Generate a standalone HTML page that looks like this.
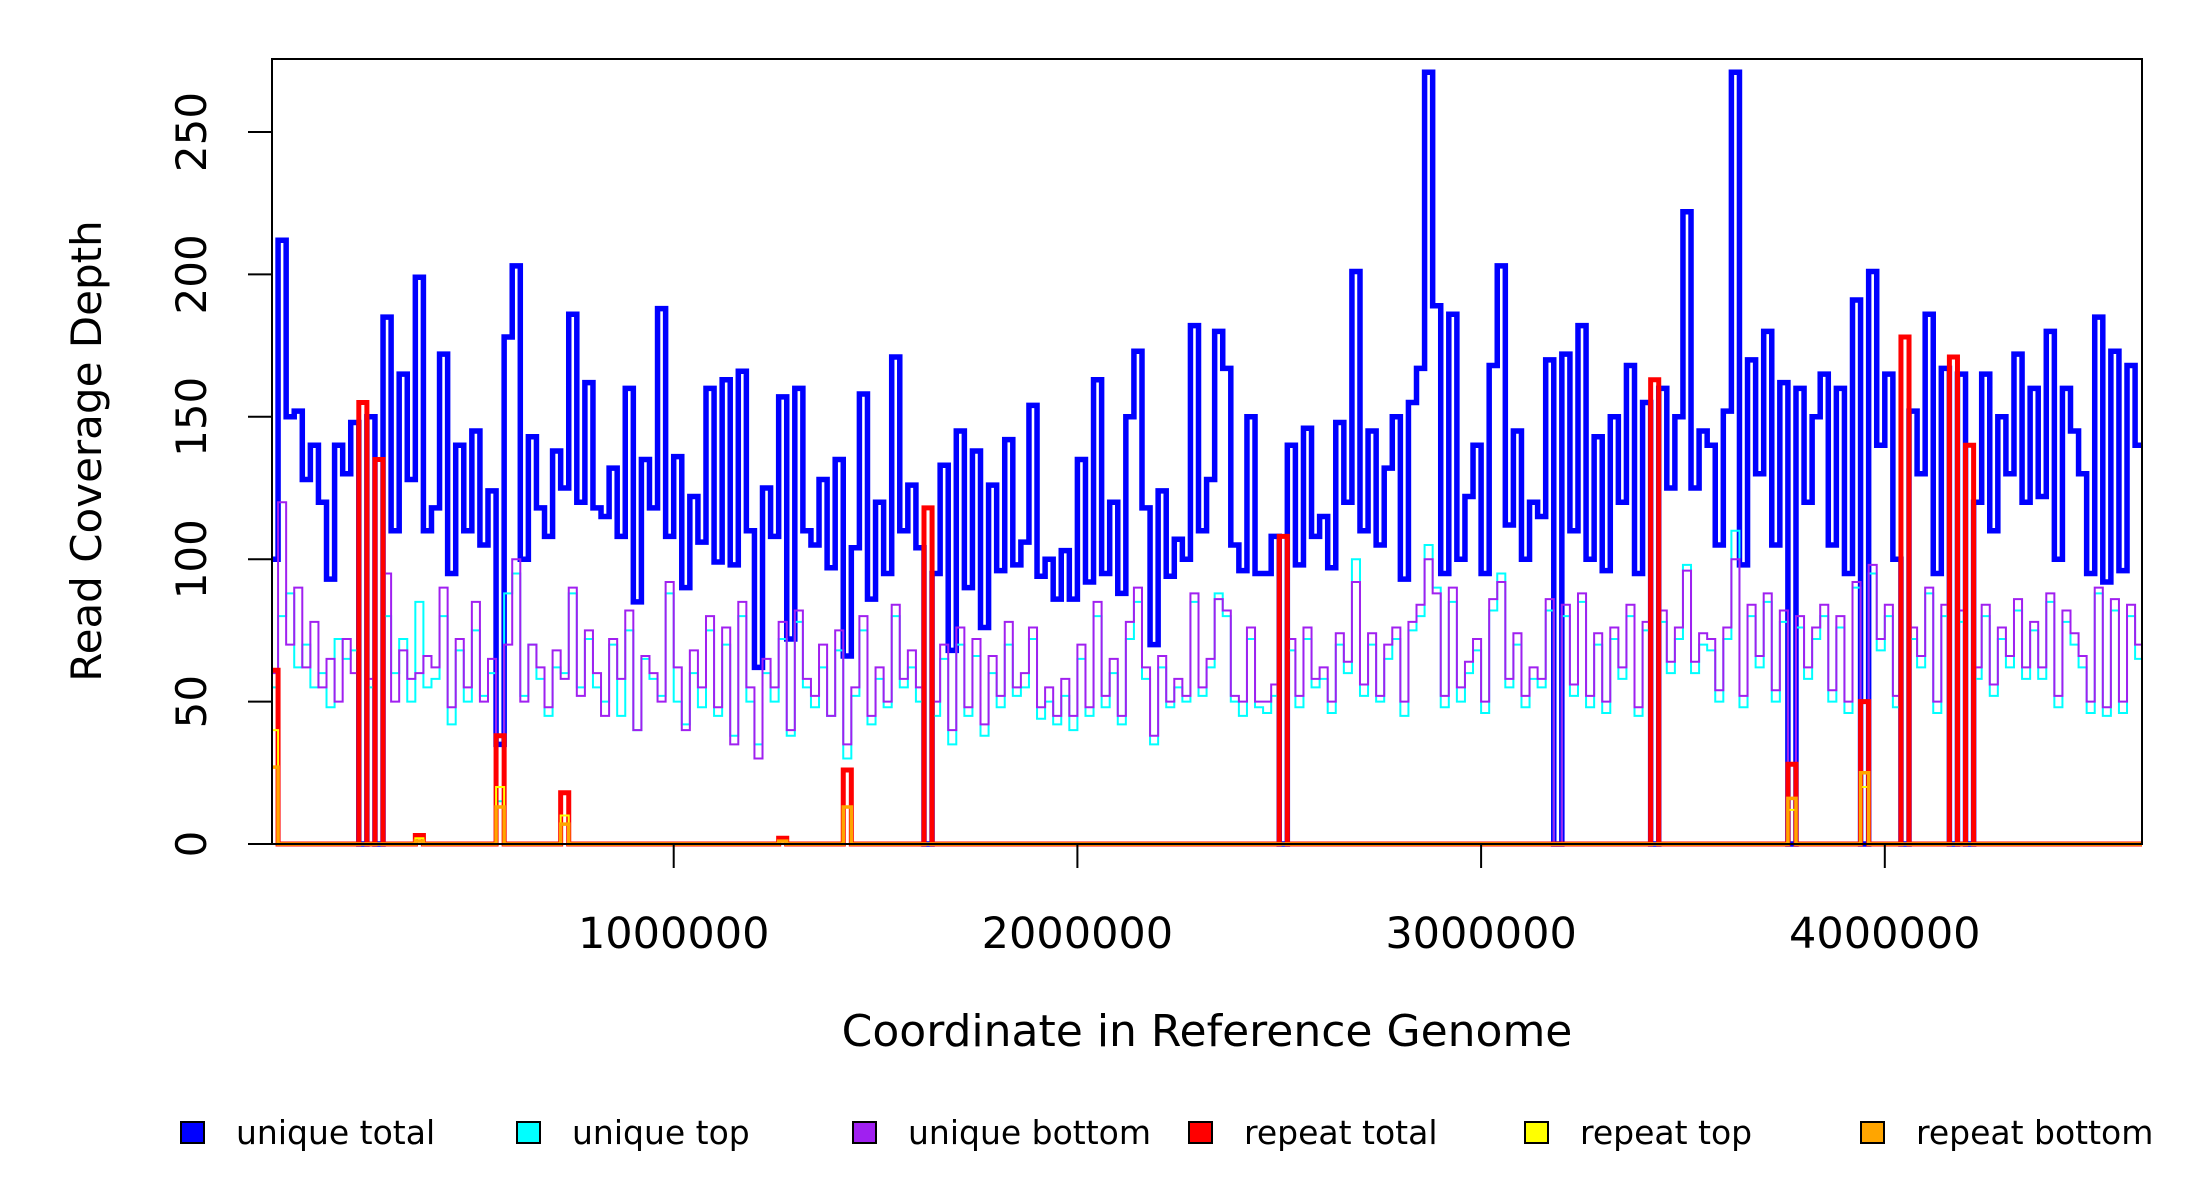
<!DOCTYPE html>
<html><head><meta charset="utf-8"><style>
html,body{margin:0;padding:0;background:#fff;}
svg{display:block;font-family:"DejaVu Sans","Liberation Sans",sans-serif;}
</style></head><body>
<svg id="chart" width="2200" height="1200" viewBox="0 0 2200 1200" xmlns="http://www.w3.org/2000/svg">
<g id="marks"></g>
<rect x="272" y="59" width="1870" height="785" fill="none" stroke="#000" stroke-width="2"/>
<g id="axes"></g>
<text x="101" y="451" font-size="42" text-anchor="middle" transform="rotate(-90 101 451)">Read Coverage Depth</text>
<text x="1207" y="1046" font-size="44" text-anchor="middle">Coordinate in Reference Genome</text>
<g id="legend"></g>
</svg>
<script>
const binSize = 20000;
const uniqueTotal = [100,212,150,152,128,140,120,93,140,130,148,0,150,0,185,110,165,128,199,110,
118,172,95,140,110,145,105,124,35,178,203,100,143,118,108,138,125,186,120,162,
118,115,132,108,160,85,135,118,188,108,136,90,122,106,160,99,163,98,166,110,
62,125,108,157,72,160,110,105,128,97,135,66,104,158,86,120,95,171,110,126,
104,0,95,133,68,145,90,138,76,126,96,142,98,106,154,94,100,86,103,86,
135,92,163,95,120,88,150,173,118,70,124,94,107,100,182,110,128,180,167,105,
96,150,95,95,108,0,140,98,146,108,115,97,148,120,201,110,145,105,132,150,
93,155,167,271,189,95,186,100,122,140,95,168,203,112,145,100,120,115,170,0,
172,110,182,100,143,96,150,120,168,95,155,0,160,125,150,222,125,145,140,105,
152,271,98,170,130,180,105,162,0,160,120,150,165,105,160,95,191,0,201,140,
165,100,0,152,130,186,95,167,0,165,0,120,165,110,150,130,172,120,160,122,
180,100,160,145,130,95,185,92,173,96,168,140];
const uniqueTop = [55,80,88,62,70,55,60,48,72,65,68,0,55,0,80,60,72,50,85,55,
58,80,42,68,50,75,52,60,15,88,95,52,70,58,45,62,60,88,55,72,
55,50,70,45,75,40,65,58,52,88,50,42,60,48,75,45,70,38,80,50,
35,60,50,72,38,78,55,48,62,45,68,30,52,75,42,58,48,80,55,62,
50,0,45,65,35,70,45,66,38,60,48,70,52,55,72,44,50,42,52,40,
65,45,80,48,60,42,72,85,58,35,62,48,55,50,85,52,62,88,80,50,
45,72,48,46,52,0,68,48,72,55,58,46,70,60,100,52,70,50,65,72,
45,75,80,105,90,48,85,50,60,68,46,82,95,55,70,48,58,55,82,0,
80,52,85,48,70,46,72,58,80,45,75,0,78,60,72,98,60,70,68,50,
72,110,48,80,62,85,50,78,0,76,58,72,80,50,76,46,90,0,95,68,
80,48,0,72,62,88,46,80,0,78,0,58,80,52,72,62,82,58,75,58,
85,48,78,70,62,46,88,45,82,46,80,65];
const uniqueBottom = [60,120,70,90,62,78,55,65,50,72,60,0,58,0,95,50,68,58,60,66,
62,90,48,72,55,85,50,65,20,70,100,50,70,62,48,68,58,90,52,75,
60,45,72,58,82,40,66,60,50,92,62,40,68,55,80,48,76,35,85,55,
30,65,55,78,40,82,58,52,70,45,75,35,55,80,45,62,50,84,58,68,
55,0,50,70,40,76,48,72,42,66,52,78,55,60,76,48,55,45,58,45,
70,48,85,52,65,45,78,90,62,38,66,50,58,52,88,55,65,86,82,52,
50,76,50,50,56,0,72,52,76,58,62,50,74,64,92,56,74,52,70,76,
50,78,84,100,88,52,90,55,64,72,50,86,92,58,74,52,62,58,86,0,
84,56,88,52,74,50,76,62,84,48,78,0,82,64,76,96,64,74,72,54,
76,100,52,84,66,88,54,82,0,80,62,76,84,54,80,50,92,0,98,72,
84,52,0,76,66,90,50,84,0,82,0,62,84,56,76,66,86,62,78,62,
88,52,82,74,66,50,90,48,86,50,84,70];
const repeatBins = [0,11,13,18,28,36,63,71,81,125,171,188,197,202,208,210];
const repeatTotal = [61,155,135,3,38,18,2,26,118,108,163,28,50,178,171,140];
const repeatTop = [40,0,0,2,20,10,1,13,0,0,0,12,20,0,0,0];
const repeatBottom = [27,0,0,1,13,7,1,13,0,0,0,16,25,0,0,0];
const yTicks = [0,50,100,150,200,250];
const xTicks = [1000000,2000000,3000000,4000000];
const legendLabels = ["unique total","unique top","unique bottom","repeat total","repeat top","repeat bottom"];
const legendColors = ["#0000ff","#00ffff","#a020f0","#ff0000","#ffff00","#ffa500"];

const NS = "http://www.w3.org/2000/svg";
const X0 = 270, XS = 403.7/1000000, PL = 272, PR = 2142;
const Y0 = 844, YS = 2.848;
function xs(v){ return X0 + v*XS; }
function ys(v){ return Y0 - v*YS; }
function expand(bins, vals){ const a = uniqueTotal.map(()=>0); bins.forEach((b,i)=>{ a[b]=vals[i]; }); return a; }
function stepPath(vals){
  let d = "";
  vals.forEach((v,i)=>{
    const xa = Math.max(PL, xs(i*binSize)), xb = Math.min(PR, xs((i+1)*binSize));
    d += (i===0 ? "M"+xa+" "+ys(v) : "V"+ys(v)) + "H"+xb;
  });
  return d;
}
const marks = document.getElementById("marks");
function addLine(vals, color, w, name){
  const p = document.createElementNS(NS,"path");
  p.setAttribute("d", stepPath(vals));
  p.setAttribute("fill","none");
  p.setAttribute("stroke", color);
  p.setAttribute("stroke-width", w);
  
  
  marks.appendChild(p);
}
addLine(uniqueTotal,"#0000ff",5.5,"unique-total-line");
addLine(uniqueTop,"#00ffff",2,"unique-top-line");
addLine(uniqueBottom,"#a020f0",2,"unique-bottom-line");
addLine(expand(repeatBins,repeatTotal),"#ff0000",5,"repeat-total-line");
addLine(expand(repeatBins,repeatTop),"#ffff00",2,"repeat-top-line");
addLine(expand(repeatBins,repeatBottom),"#ffa500",3.5,"repeat-bottom-line");

const axes = document.getElementById("axes");
yTicks.forEach(t=>{
  const l = document.createElementNS(NS,"line");
  l.setAttribute("x1",248); l.setAttribute("x2",272);
  l.setAttribute("y1",ys(t)); l.setAttribute("y2",ys(t));
  l.setAttribute("stroke","#000"); l.setAttribute("stroke-width",2);
  
  
  axes.appendChild(l);
  const tx = document.createElementNS(NS,"text");
  tx.setAttribute("x",206); tx.setAttribute("y",ys(t));
  tx.setAttribute("font-size",42); tx.setAttribute("text-anchor","middle");
  tx.setAttribute("transform","rotate(-90 206 "+ys(t)+")");
  tx.textContent = t;
  
  
  axes.appendChild(tx);
});
xTicks.forEach(t=>{
  const l = document.createElementNS(NS,"line");
  l.setAttribute("x1",xs(t)); l.setAttribute("x2",xs(t));
  l.setAttribute("y1",844); l.setAttribute("y2",868);
  l.setAttribute("stroke","#000"); l.setAttribute("stroke-width",2);
  
  
  axes.appendChild(l);
  const tx = document.createElementNS(NS,"text");
  tx.setAttribute("x",xs(t)); tx.setAttribute("y",948);
  tx.setAttribute("font-size",43); tx.setAttribute("text-anchor","middle");
  tx.textContent = t;
  
  
  axes.appendChild(tx);
});
const legend = document.getElementById("legend");
legendLabels.forEach((lab,i)=>{
  const bx = 181 + i*336;
  const r = document.createElementNS(NS,"rect");
  r.setAttribute("x",bx); r.setAttribute("y",1122);
  r.setAttribute("width",23); r.setAttribute("height",21);
  r.setAttribute("fill",legendColors[i]); r.setAttribute("stroke","#000"); r.setAttribute("stroke-width",2);
  
  
  legend.appendChild(r);
  const tx = document.createElementNS(NS,"text");
  tx.setAttribute("x",bx+55); tx.setAttribute("y",1144);
  tx.setAttribute("font-size",33);
  tx.textContent = lab;
  
  
  legend.appendChild(tx);
});
</script>
</body></html>
